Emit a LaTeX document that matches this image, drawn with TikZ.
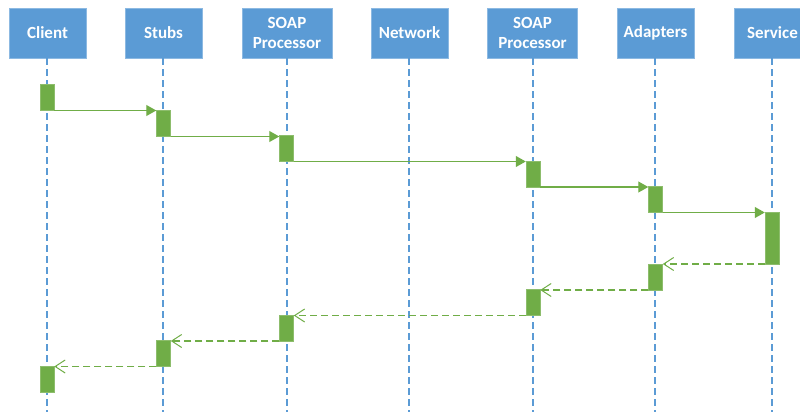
\documentclass[tikz,border=0pt]{standalone}
\usepackage{fontspec}
\setmainfont{Carlito}
\usetikzlibrary{arrows.meta}
\definecolor{hblue}{HTML}{5B9BD5}
\definecolor{lblue}{HTML}{5B9BD5}
\definecolor{bgreen}{HTML}{70AD47}
\tikzset{
  header/.style={fill=hblue, draw=hblue!70!white, line width=0.6pt, text=white, font=\fontsize{17}{20}\selectfont\bfseries, minimum height=50pt, align=center, inner sep=0pt},
  lifeline/.style={draw=lblue, line width=1.2pt, dash pattern=on 7pt off 4pt},
  actbar/.style={fill=bgreen, draw=bgreen!80!white, line width=0.5pt, minimum width=14pt, inner sep=0pt, anchor=north},
  callarrow/.style={draw=bgreen, line width=1.2pt, -{Triangle[length=10pt,width=11pt]}},
  retarrow/.style={draw=bgreen, line width=1.1pt, dash pattern=on 7pt off 4pt, -{Straight Barb[length=10pt,width=13pt,line width=1pt]}}
}
\begin{document}
\begin{tikzpicture}[x=1pt,y=-1pt]
\useasboundingbox (0,0) rectangle (800,412);
\clip (0,0) rectangle (800,412);
% headers
\node[header, minimum width=77pt] (client) at (47.5,33) {Client};
\node[header, minimum width=77pt] (stubs) at (163.5,33) {Stubs};
\node[header, minimum width=90pt] (soapa) at (287,33) {SOAP\\Processor};
\node[header, minimum width=77pt] (network) at (409.5,33) {Network};
\node[header, minimum width=90pt] (soapb) at (532.5,33) {SOAP\\Processor};
\node[header, minimum width=77pt] (adapters) at (655.5,33) {Adapters};
\node[header, minimum width=77pt] (service) at (772.5,33) {Service};
% lifeline ends
\coordinate (clientend) at (47,412);
\coordinate (stubsend) at (163,412);
\coordinate (soapaend) at (287,412);
\coordinate (networkend) at (409,412);
\coordinate (soapbend) at (533,412);
\coordinate (adaptersend) at (655,412);
\coordinate (serviceend) at (772,412);
\draw[lifeline] (client.south -| clientend) -- (clientend);
\draw[lifeline] (stubs.south -| stubsend) -- (stubsend);
\draw[lifeline] (soapa.south -| soapaend) -- (soapaend);
\draw[lifeline] (network.south -| networkend) -- (networkend);
\draw[lifeline] (soapb.south -| soapbend) -- (soapbend);
\draw[lifeline] (adapters.south -| adaptersend) -- (adaptersend);
\draw[lifeline] (service.south -| serviceend) -- (serviceend);
% activation bars
\node[actbar, minimum height=26pt] (c1) at (47,84) {};
\node[actbar, minimum height=26pt] (s1) at (163.5,110) {};
\node[actbar, minimum height=26pt] (pa1) at (286.5,135) {};
\node[actbar, minimum height=26pt] (pb1) at (533,160.5) {};
\node[actbar, minimum height=26pt] (a1) at (655.5,186) {};
\node[actbar, minimum height=52pt] (sv) at (772,211.5) {};
\node[actbar, minimum height=26pt] (a2) at (655.5,263.5) {};
\node[actbar, minimum height=26pt] (pb2) at (533,289) {};
\node[actbar, minimum height=26pt] (pa2) at (286.5,314.5) {};
\node[actbar, minimum height=26pt] (s2) at (163.5,340) {};
\node[actbar, minimum height=26pt] (c2) at (47,366) {};
% calls
\draw[callarrow] (c1.south east) -- (c1.south east -| s1.west);
\draw[callarrow] (s1.south east) -- (s1.south east -| pa1.west);
\draw[callarrow] (pa1.south east) -- (pa1.south east -| pb1.west);
\draw[callarrow] (pb1.south east) -- (pb1.south east -| a1.west);
\draw[callarrow] (a1.south east) -- (a1.south east -| sv.west);
% returns
\draw[retarrow] (sv.south west) -- (sv.south west -| a2.east);
\draw[retarrow] (a2.south west) -- (a2.south west -| pb2.east);
\draw[retarrow] (pb2.south west) -- (pb2.south west -| pa2.east);
\draw[retarrow] (pa2.south west) -- (pa2.south west -| s2.east);
\draw[retarrow] (s2.south west) -- (s2.south west -| c2.east);
\end{tikzpicture}
\end{document}
